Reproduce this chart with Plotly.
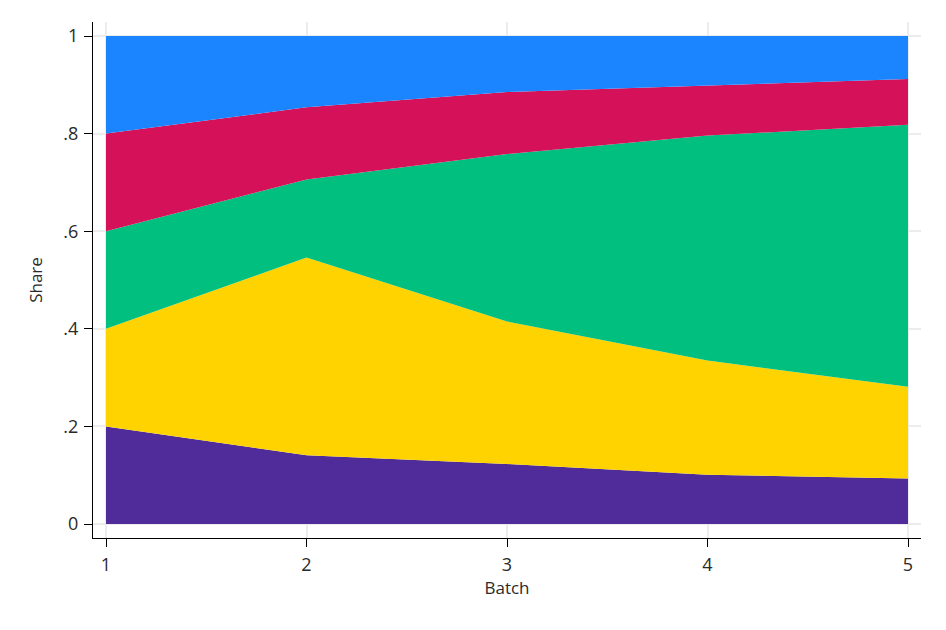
import plotly.graph_objects as go

batch = [1, 2, 3, 4, 5]

# shares per group (stacked bottom -> top)
share_purple = [0.200, 0.141, 0.123, 0.101, 0.093]
share_yellow = [0.200, 0.405, 0.292, 0.234, 0.188]
share_green = [0.200, 0.160, 0.343, 0.461, 0.537]
share_red = [0.200, 0.148, 0.127, 0.103, 0.094]
share_blue = [0.200, 0.146, 0.115, 0.101, 0.088]

ytick_vals = [0, 0.2, 0.4, 0.6, 0.8, 1]
ytick_text = ["0", ".2", ".4", ".6", ".8", "1"]

series = [
    (share_purple, "#4f2c9a"),
    (share_yellow, "#fed300"),
    (share_green, "#00bf7f"),
    (share_red, "#d41159"),
    (share_blue, "#1a85ff"),
]

fig = go.Figure()
for vals, col in series:
    fig.add_trace(go.Scatter(
        x=batch,
        y=vals,
        mode="lines",
        stackgroup="one",
        line=dict(width=0, color=col),
        fillcolor=col,
        showlegend=False,
    ))

font = dict(family="Open Sans", size=18, color="#2a2a2a")
title_font = dict(family="Open Sans", size=17, color="#2a2a2a")

fig.update_layout(
    width=946,
    height=630,
    margin=dict(l=85, r=33, t=14, b=100),
    paper_bgcolor="white",
    plot_bgcolor="white",
    font=font,
    xaxis=dict(
        range=[1 - 13 / 200.5, 5 + 13 / 200.5],
        tickvals=batch,
        showline=True,
        linecolor="black",
        linewidth=1.3,
        ticks="outside",
        ticklen=8,
        tickcolor="black",
        ticklabelstandoff=2,
        showgrid=True,
        gridcolor="#ececec",
        gridwidth=2,
        zeroline=False,
        title=dict(text="Batch", font=title_font, standoff=7),
    ),
    yaxis=dict(
        range=[-14 / 488, 1 + 14 / 488],
        tickvals=ytick_vals,
        ticktext=ytick_text,
        showline=True,
        linecolor="black",
        linewidth=1.3,
        ticks="outside",
        ticklen=8,
        tickcolor="black",
        ticklabelstandoff=2,
        showgrid=True,
        gridcolor="#ececec",
        gridwidth=2,
        zeroline=False,
        title=dict(text="Share", font=title_font, standoff=16),
    ),
)

fig.write_html("out.html")
